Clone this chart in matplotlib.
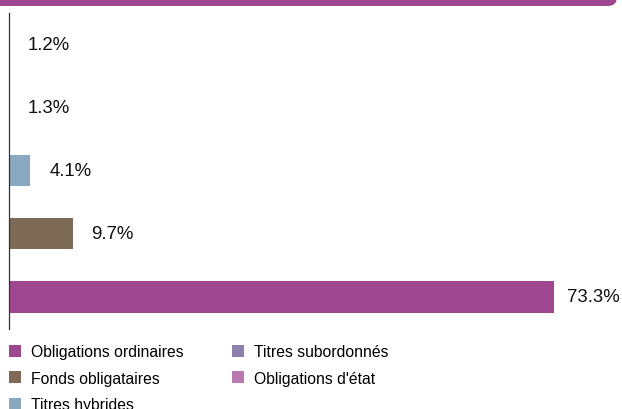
import matplotlib
matplotlib.use("Agg")
import matplotlib.pyplot as plt
from matplotlib.patches import Patch, FancyBboxPatch
from matplotlib.transforms import IdentityTransform

plt.rcParams['font.family'] = ['Liberation Sans', 'DejaVu Sans']

categories = ["Obligations d'état", "Titres subordonnés", "Titres hybrides",
              "Fonds obligataires", "Obligations ordinaires"]
values = [1.2, 1.3, 4.1, 9.7, 73.3]
colors = ["#b878b0", "#8e80ad", "#8aa8c0", "#7d6b58", "#9e4790"]
labels = ["1.2%", "1.3%", "4.1%", "9.7%", "73.3%"]

legend_order = ["Obligations ordinaires", "Fonds obligataires", "Titres hybrides",
                "Titres subordonnés", "Obligations d'état"]

W, H = 622, 410
fig = plt.figure(figsize=(W / 100, H / 100), dpi=100)
ax = fig.add_axes([9 / W, (H - 329.5) / H, (600 - 9) / W, (329.5 - 13.5) / H])

ypos = list(range(len(categories)))
ax.barh(ypos, values, height=0.5, color=colors, left=0)
ax.set_xlim(1.3, 79.4)
ax.set_ylim(4.5, -0.5)

vmax = max(values)
for y, v, lab in zip(ypos, values, labels):
    off = 13 if v == vmax else 19
    ax.annotate(lab, xy=(max(v, 1.3), y), xytext=(off, 0), textcoords='offset pixels',
                va='center', ha='left', fontsize=13.4, color='#111111')

for s in ['top', 'right', 'bottom']:
    ax.spines[s].set_visible(False)
ax.spines['left'].set_color('#333333')
ax.spines['left'].set_linewidth(0.9)
ax.set_xticks([])
ax.set_yticks([])

cmap = dict(zip(categories, colors))
handles = [Patch(facecolor=cmap[c], edgecolor='none', label=c) for c in legend_order]
fig.legend(handles=handles, loc='upper left', bbox_to_anchor=(8.5 / W, (H - 345.5) / H),
           ncol=2, frameon=False, fontsize=11.3,
           handlelength=0.77, handleheight=0.77,
           handletextpad=0.64, columnspacing=3.1, labelspacing=0.72,
           borderpad=0, borderaxespad=0)

# top banner
banner = FancyBboxPatch((-30, H - 7), 30 + 617, 60,
                        boxstyle="round,pad=0,rounding_size=9",
                        facecolor="#9e4790", edgecolor='none',
                        transform=IdentityTransform())
fig.add_artist(banner)

fig.savefig("out.png", dpi=100)
